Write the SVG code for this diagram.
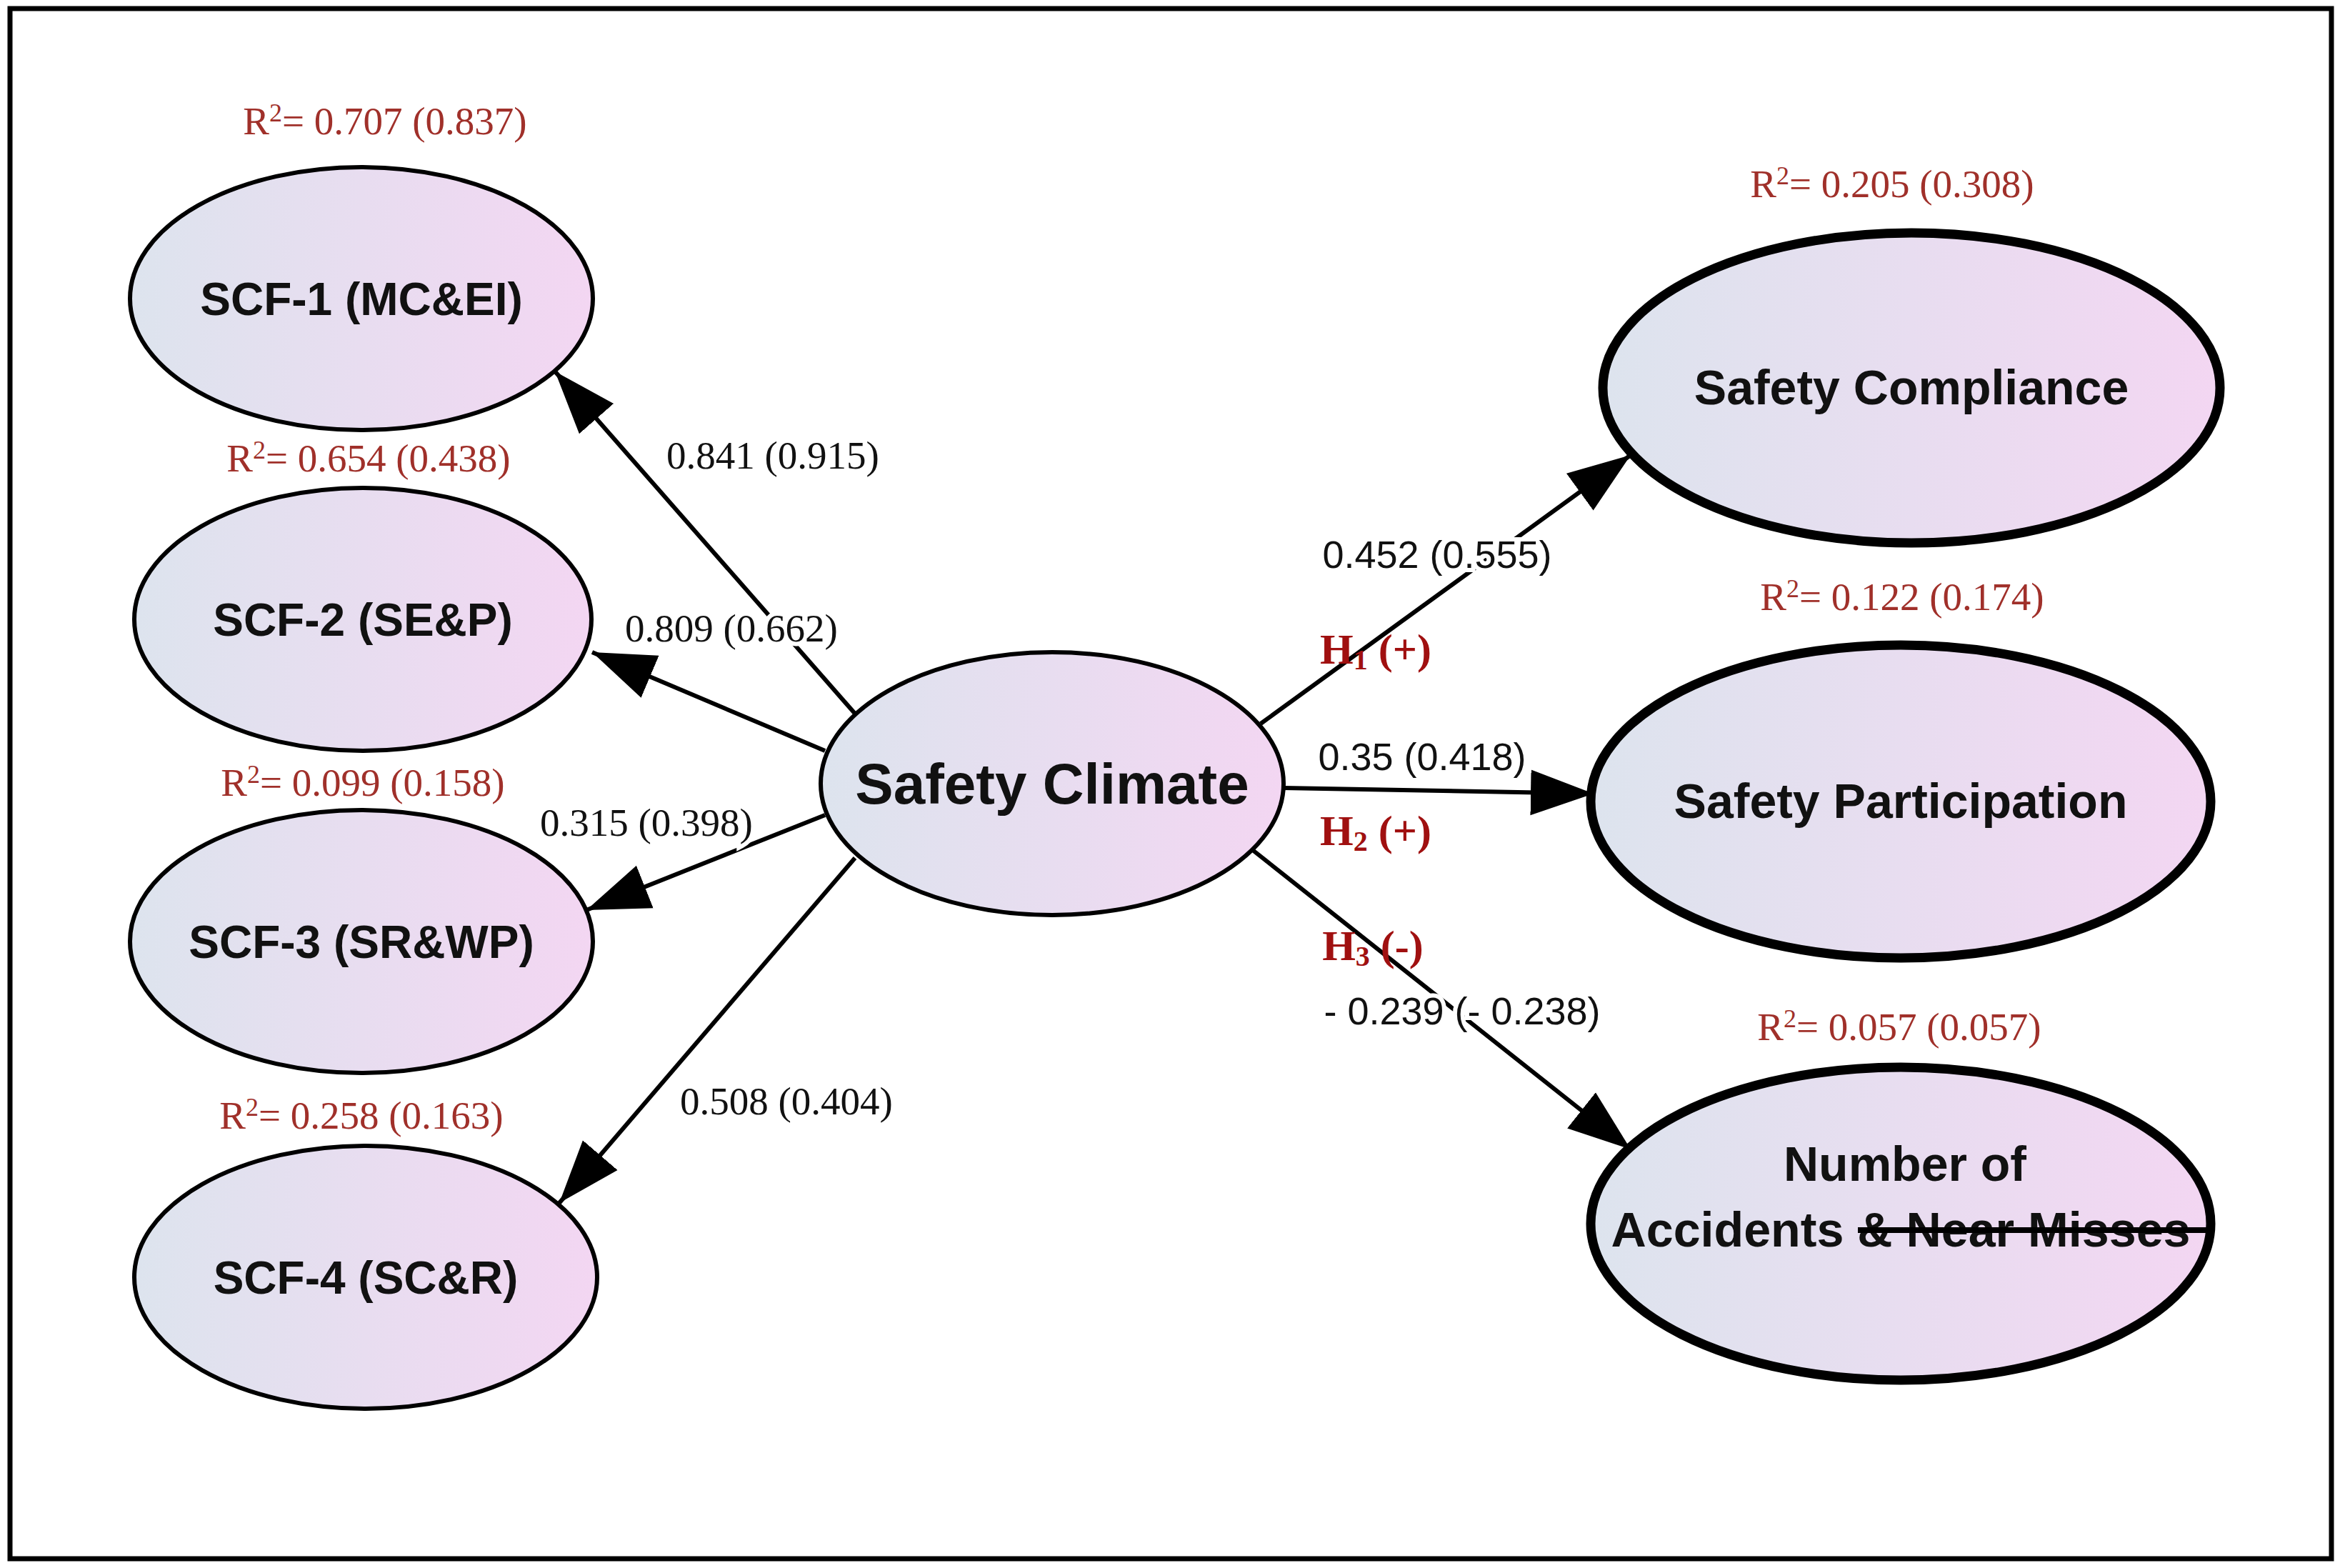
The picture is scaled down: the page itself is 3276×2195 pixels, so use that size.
<svg xmlns="http://www.w3.org/2000/svg" width="3276" height="2195" viewBox="0 0 3276 2195">
<style>
.nd{fill:url(#g);stroke:#000;stroke-width:6}
.nd2{fill:url(#g);stroke:#000;stroke-width:13}
.lb{font-family:"Liberation Sans",Arial,sans-serif;font-weight:bold;fill:#111;text-anchor:middle}
.r2{font-family:"Liberation Serif","Times New Roman",serif;font-size:55px;fill:#a0302a;text-anchor:middle}
.pl{font-family:"Liberation Serif","Times New Roman",serif;font-size:55px;fill:#111;text-anchor:middle;stroke:#fff;stroke-width:12;paint-order:stroke}
.pr{font-family:"Liberation Sans",Arial,sans-serif;font-size:54px;fill:#111;text-anchor:middle;stroke:#fff;stroke-width:12;paint-order:stroke}
.h{font-family:"Liberation Serif","Times New Roman",serif;font-size:60px;font-weight:bold;fill:#a01010;text-anchor:middle}
.e{stroke:#000;stroke-width:6;fill:none;marker-end:url(#a)}
</style>
<defs>
<linearGradient id="g" x1="0" y1="0" x2="1" y2="0">
<stop offset="0" stop-color="#dde4ee"/><stop offset="1" stop-color="#f3d6f2"/>
</linearGradient>
<marker id="a" markerUnits="userSpaceOnUse" markerWidth="90" markerHeight="70" viewBox="0 0 90 70" refX="88" refY="35" orient="auto">
<path d="M0,3 L88,35 L0,67 Z" fill="#000"/>
</marker>
</defs>
<rect width="3276" height="2195" fill="#fff"/>
<rect x="14" y="12" width="3250" height="2170" fill="none" stroke="#000" stroke-width="7"/>
<g id="connectors">
<line class="e" x1="1197" y1="999" x2="777" y2="520"/>
<line class="e" x1="1155" y1="1051" x2="829" y2="913"/>
<line class="e" x1="1155" y1="1141" x2="821" y2="1274"/>
<line class="e" x1="1197" y1="1201" x2="783" y2="1684"/>
<line class="e" x1="1765" y1="1013" x2="2283" y2="637"/>
<line class="e" x1="1797" y1="1103" x2="2231" y2="1111"/>
<line class="e" x1="1755" y1="1191" x2="2283" y2="1609"/>
<text class="pl" x="1082" y="656">0.841 (0.915)</text>
<text class="pl" x="1024" y="898">0.809 (0.662)</text>
<text class="pl" x="905" y="1170">0.315 (0.398)</text>
<text class="pl" x="1101" y="1560">0.508 (0.404)</text>
<text class="pr" x="2012" y="795">0.452 (0.555)</text>
<text class="pr" x="1991" y="1078">0.35 (0.418)</text>
<text class="pr" x="2047" y="1434">- 0.239 (- 0.238)</text>
<text class="h" x="1926" y="929">H<tspan font-size="40" dy="8">1</tspan><tspan dy="-8"> (+)</tspan></text>
<text class="h" x="1926" y="1183">H<tspan font-size="40" dy="8">2</tspan><tspan dy="-8"> (+)</tspan></text>
<text class="h" x="1922" y="1344">H<tspan font-size="40" dy="8">3</tspan><tspan dy="-8"> (-)</tspan></text>
</g>
<g id="scf1"><ellipse class="nd" cx="506" cy="418" rx="324" ry="184"/><text class="lb" x="506" y="441" font-size="64">SCF-1 (MC&amp;EI)</text>
<text class="r2" x="539" y="188">R<tspan font-size="36" dy="-18">2</tspan><tspan dy="18">= 0.707 (0.837)</tspan></text></g>
<g id="scf2"><ellipse class="nd" cx="508" cy="867" rx="320" ry="184"/><text class="lb" x="508" y="890" font-size="64">SCF-2 (SE&amp;P)</text>
<text class="r2" x="516" y="660">R<tspan font-size="36" dy="-18">2</tspan><tspan dy="18">= 0.654 (0.438)</tspan></text></g>
<g id="scf3"><ellipse class="nd" cx="506" cy="1318" rx="324" ry="184"/><text class="lb" x="506" y="1341" font-size="64">SCF-3 (SR&amp;WP)</text>
<text class="r2" x="508" y="1114">R<tspan font-size="36" dy="-18">2</tspan><tspan dy="18">= 0.099 (0.158)</tspan></text></g>
<g id="scf4"><ellipse class="nd" cx="512" cy="1788" rx="324" ry="184"/><text class="lb" x="512" y="1811" font-size="64">SCF-4 (SC&amp;R)</text>
<text class="r2" x="506" y="1580">R<tspan font-size="36" dy="-18">2</tspan><tspan dy="18">= 0.258 (0.163)</tspan></text></g>
<g id="climate"><ellipse class="nd" cx="1473" cy="1097" rx="324" ry="184"/><text class="lb" x="1473" y="1125" font-size="80">Safety Climate</text></g>
<g id="compliance"><ellipse class="nd2" cx="2676" cy="543" rx="432" ry="217"/><text class="lb" x="2676" y="566" font-size="68">Safety Compliance</text>
<text class="r2" x="2649" y="276">R<tspan font-size="36" dy="-18">2</tspan><tspan dy="18">= 0.205 (0.308)</tspan></text></g>
<g id="participation"><ellipse class="nd2" cx="2661" cy="1122" rx="434" ry="219"/><text class="lb" x="2661" y="1145" font-size="68">Safety Participation</text>
<text class="r2" x="2663" y="854">R<tspan font-size="36" dy="-18">2</tspan><tspan dy="18">= 0.122 (0.174)</tspan></text></g>
<g id="accidents"><ellipse class="nd2" cx="2661" cy="1713" rx="434" ry="219"/>
<text class="lb" x="2667" y="1653" font-size="68">Number of</text>
<text class="lb" x="2661" y="1745" font-size="68" textLength="811" lengthAdjust="spacingAndGlyphs">Accidents &amp; Near Misses</text>
<line x1="2601" y1="1722" x2="3096" y2="1722" stroke="#000" stroke-width="8"/>
<text class="r2" x="2659" y="1456">R<tspan font-size="36" dy="-18">2</tspan><tspan dy="18">= 0.057 (0.057)</tspan></text></g>
</svg>
